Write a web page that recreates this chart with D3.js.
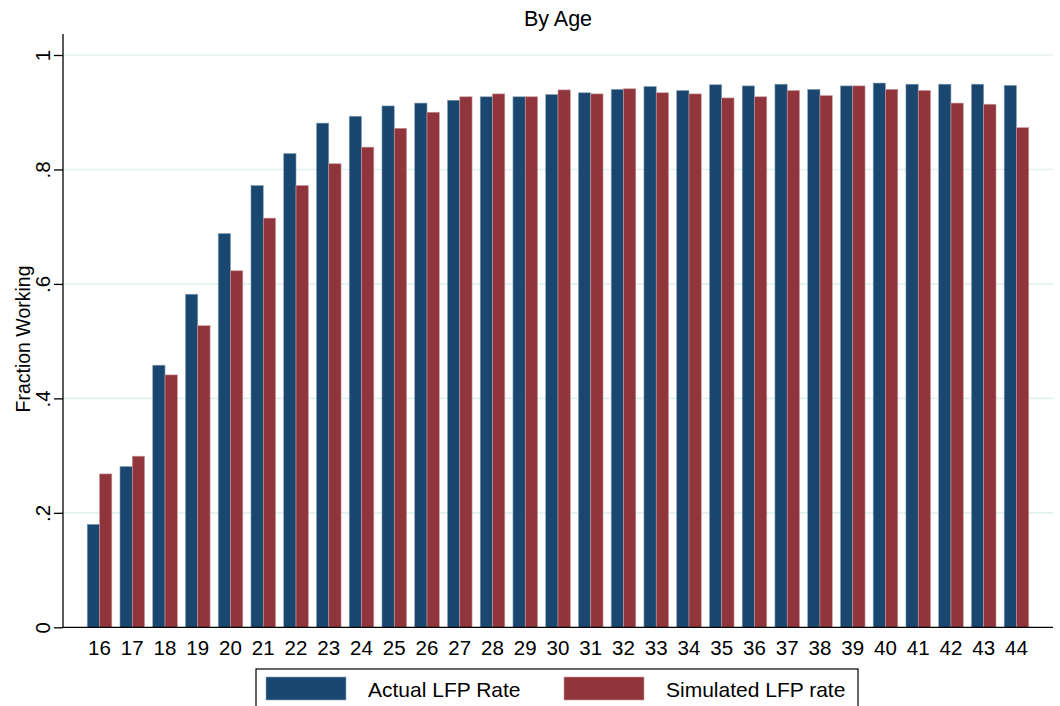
<!DOCTYPE html>
<html>
<head>
<meta charset="utf-8">
<script src="https://cdn.jsdelivr.net/npm/d3@7"></script>
<style>
  body { margin: 0; background: #fff; }
  text { font-family: "Liberation Sans", Arial, sans-serif; fill: #000; }
</style>
</head>
<body>
<div id="chart"></div>
<script>
// ages along the x axis
var ages = [16, 17, 18, 19, 20, 21, 22, 23, 24, 25, 26, 27, 28, 29, 30,
            31, 32, 33, 34, 35, 36, 37, 38, 39, 40, 41, 42, 43, 44];

// fraction working
var actual = [0.180, 0.281, 0.458, 0.582, 0.688, 0.772, 0.828, 0.881, 0.893, 0.911,
              0.916, 0.921, 0.927, 0.927, 0.931, 0.934, 0.940, 0.945, 0.938, 0.948,
              0.946, 0.949, 0.940, 0.946, 0.951, 0.949, 0.949, 0.949, 0.947];
var simulated = [0.268, 0.299, 0.441, 0.527, 0.623, 0.715, 0.772, 0.810, 0.839, 0.872,
                 0.900, 0.927, 0.932, 0.927, 0.939, 0.932, 0.941, 0.934, 0.932, 0.925,
                 0.927, 0.938, 0.929, 0.946, 0.940, 0.938, 0.916, 0.914, 0.873];

var seriesNames = ["Actual LFP Rate", "Simulated LFP rate"];
var yTicks = [0, 0.2, 0.4, 0.6, 0.8, 1];
var yTickLabels = ["0", ".2", ".4", ".6", ".8", "1"];

var config = {
    width: 1060,
    height: 706,
    plot: { left: 63, right: 1053, top: 34, bottom: 627.3 },
    colors: ['#1a476f', '#90353b'],
    outline: ['#8da3b8', '#c99a9d'],
    grid: '#e3f0f1',
    fontSize: 20.5
};

var svg = d3.select('#chart').append('svg')
    .attr('width', config.width)
    .attr('height', config.height);

var x = d3.scaleBand()
    .domain(ages)
    .range([config.plot.left, config.plot.right])
    .paddingInner(0.249)
    .paddingOuter(0.74);

var xSeries = d3.scaleBand()
    .domain([0, 1])
    .range([0, x.bandwidth()]);

var y = d3.scaleLinear()
    .domain([0, 1])
    .range([config.plot.bottom, 55]);

// gridlines
svg.append('g')
    .selectAll('line')
    .data(yTicks.slice(1))
    .enter().append('line')
    .attr('x1', config.plot.left)
    .attr('x2', config.plot.right)
    .attr('y1', function (d) { return y(d); })
    .attr('y2', function (d) { return y(d); })
    .attr('stroke', config.grid)
    .attr('stroke-width', 1.6);

// bars
var rows = ages.map(function (a, i) { return { age: a, values: [actual[i], simulated[i]] }; });

var groups = svg.append('g').selectAll('g')
    .data(rows)
    .enter().append('g')
    .attr('transform', function (d) { return 'translate(' + x(d.age) + ',0)'; });

groups.selectAll('rect')
    .data(function (d) { return d.values.map(function (v, k) { return { k: k, v: v }; }); })
    .enter().append('rect')
    .attr('x', function (d) { return xSeries(d.k); })
    .attr('width', xSeries.bandwidth())
    .attr('y', function (d) { return y(d.v); })
    .attr('height', function (d) { return y(0) - y(d.v); })
    .attr('fill', function (d) { return config.colors[d.k]; })
    .attr('stroke', function (d) { return config.outline[d.k]; })
    .attr('stroke-width', 0.6);

// y axis
var yAxis = d3.axisLeft(y)
    .tickValues(yTicks)
    .tickSize(9)
    .tickFormat(function (d, i) { return yTickLabels[i]; });

var gy = svg.append('g')
    .attr('transform', 'translate(' + config.plot.left + ',0)')
    .call(yAxis);
gy.select('.domain').remove();
gy.selectAll('.tick line').attr('stroke', '#000').attr('stroke-width', 1.3);
gy.selectAll('.tick text')
    .attr('x', null).attr('dy', null)
    .attr('transform', 'translate(-13,0) rotate(-90)')
    .attr('text-anchor', 'middle')
    .attr('font-size', config.fontSize)
    .attr('font-family', '"Liberation Sans", Arial, sans-serif');
gy.append('line')
    .attr('x1', 0).attr('x2', 0)
    .attr('y1', config.plot.top).attr('y2', config.plot.bottom)
    .attr('stroke', '#000').attr('stroke-width', 1.3);

// x axis
var xAxis = d3.axisBottom(x).tickSize(0).tickPadding(0);
var gx = svg.append('g')
    .attr('transform', 'translate(0,' + config.plot.bottom + ')')
    .call(xAxis);
gx.select('.domain').remove();
gx.selectAll('.tick text')
    .attr('dy', null)
    .attr('y', 28)
    .attr('font-size', config.fontSize)
    .attr('font-family', '"Liberation Sans", Arial, sans-serif');
gx.append('line')
    .attr('x1', config.plot.left).attr('x2', config.plot.right)
    .attr('y1', 0).attr('y2', 0)
    .attr('stroke', '#000').attr('stroke-width', 1.3);

// title and y label
svg.append('text')
    .attr('x', (config.plot.left + config.plot.right) / 2)
    .attr('y', 26)
    .attr('text-anchor', 'middle')
    .attr('font-size', 21.5)
    .text('By Age');

svg.append('text')
    .attr('transform', 'translate(30,339) rotate(-90)')
    .attr('text-anchor', 'middle')
    .attr('font-size', 19.5)
    .text('Fraction Working');

// legend
var legend = svg.append('g');
legend.append('rect')
    .attr('x', 256).attr('y', 669)
    .attr('width', 602).attr('height', 60)
    .attr('fill', '#fff')
    .attr('stroke', '#000')
    .attr('stroke-width', 1.2);

var legendX = [266, 564];
var items = legend.selectAll('.item')
    .data(seriesNames)
    .enter().append('g')
    .attr('transform', function (d, i) { return 'translate(' + legendX[i] + ',677)'; });
items.append('rect')
    .attr('width', 80).attr('height', 23)
    .attr('fill', function (d, i) { return config.colors[i]; })
    .attr('stroke', function (d, i) { return config.outline[i]; })
    .attr('stroke-width', 0.6);
items.append('text')
    .attr('x', 102).attr('y', 20)
    .attr('font-size', 21)
    .text(function (d) { return d; });
</script>
</body>
</html>
